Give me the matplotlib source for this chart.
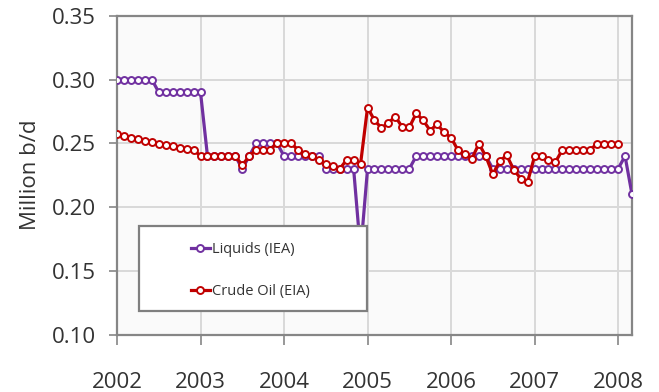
import matplotlib
matplotlib.use("Agg")
import matplotlib.pyplot as plt
from matplotlib.patches import Rectangle
import numpy as np

plt.rcParams['font.family'] = ['Open Sans', 'DejaVu Sans']

# Monthly series, Jan 2002 onward
liquids_iea = [
    0.30, 0.30, 0.30, 0.30, 0.30, 0.30, 0.29, 0.29, 0.29, 0.29, 0.29, 0.29,   # 2002
    0.29, 0.24, 0.24, 0.24, 0.24, 0.24, 0.23, 0.24, 0.25, 0.25, 0.25, 0.25,   # 2003
    0.24, 0.24, 0.24, 0.24, 0.24, 0.24, 0.23, 0.23, 0.23, 0.23, 0.23, 0.165,  # 2004
    0.23, 0.23, 0.23, 0.23, 0.23, 0.23, 0.23, 0.24, 0.24, 0.24, 0.24, 0.24,   # 2005
    0.24, 0.24, 0.24, 0.24, 0.24, 0.24, 0.23, 0.23, 0.23, 0.23, 0.23, 0.23,   # 2006
    0.23, 0.23, 0.23, 0.23, 0.23, 0.23, 0.23, 0.23, 0.23, 0.23, 0.23, 0.23,   # 2007
    0.23, 0.24, 0.21,                                                       # 2008
]
crude_oil_eia = [
    0.257, 0.2555, 0.2545, 0.253, 0.252, 0.251, 0.2498, 0.2484, 0.2476, 0.2466, 0.2458, 0.245,   # 2002
    0.24, 0.24, 0.24, 0.24, 0.24, 0.24, 0.2328, 0.24, 0.245, 0.245, 0.245, 0.25,               # 2003
    0.25, 0.25, 0.245, 0.242, 0.24, 0.237, 0.234, 0.232, 0.230, 0.237, 0.237, 0.234,           # 2004
    0.278, 0.268, 0.262, 0.266, 0.271, 0.2625, 0.2625, 0.2735, 0.268, 0.260, 0.265, 0.2585,    # 2005
    0.2545, 0.2445, 0.242, 0.238, 0.2497, 0.2398, 0.2257, 0.2361, 0.2406, 0.2294, 0.2224, 0.2197,  # 2006
    0.2398, 0.2398, 0.2372, 0.2353, 0.245, 0.245, 0.245, 0.245, 0.245, 0.2497, 0.2497, 0.2497,  # 2007
    0.2497,                                                                                   # 2008
]
year_ticks = [2002, 2003, 2004, 2005, 2006, 2007, 2008]
value_ticks = [0.10, 0.15, 0.20, 0.25, 0.30, 0.35]

start_year = 2002
x_liq = start_year + np.arange(len(liquids_iea)) / 12.0
x_crude = start_year + np.arange(len(crude_oil_eia)) / 12.0

purple = "#7030A0"
red = "#C00000"
axis_gray = "#868686"
grid_gray = "#d9d9d9"
text_col = "#333333"

fig = plt.figure(figsize=(6.59, 3.92), dpi=100)
ax = fig.add_axes([117 / 659, 57.3 / 392, 515 / 659, 319 / 392])
ax.set_facecolor("#fafafa")

line_kw = dict(lw=2.3, marker="o", markersize=5.0, markerfacecolor="white",
               markeredgewidth=1.4, solid_joinstyle="round")
l1, = ax.plot(x_liq, liquids_iea, color=purple, label="Liquids (IEA)", zorder=3, **line_kw)
l2, = ax.plot(x_crude, crude_oil_eia, color=red, label="Crude Oil (EIA)", zorder=4, **line_kw)

ax.set_xlim(2002, 2008 + 2 / 12)
ax.set_ylim(0.10, 0.35)
ax.set_xticks(year_ticks)
ax.set_xticklabels([str(y) for y in year_ticks])
ax.set_yticks(value_ticks)
ax.set_yticklabels([f"{v:.2f}" for v in value_ticks])

ax.grid(True, color=grid_gray, lw=1.4, zorder=0)
ax.set_axisbelow(True)
for s in ax.spines.values():
    s.set_color(axis_gray)
    s.set_linewidth(1.6)

ax.tick_params(axis="x", direction="out", length=7, width=1.2, color=axis_gray,
               labelsize=16, labelcolor=text_col, pad=20)
ax.tick_params(axis="y", direction="out", length=6, width=1.2, color=axis_gray,
               labelsize=16, labelcolor=text_col, pad=9)
ax.set_ylabel("Million b/d", fontsize=16, color=text_col, labelpad=8)

# Legend box
box = Rectangle((22 / 515, 23.7 / 319), 228 / 515, 85 / 319, transform=ax.transAxes,
                facecolor="white", edgecolor="#7f7f7f", lw=1.6, zorder=6)
ax.add_patch(box)
leg = ax.legend(handles=[l1, l2], loc="upper left",
                bbox_to_anchor=(74 / 515, 93 / 319), frameon=False,
                fontsize=10.5, handlelength=1.3, handletextpad=0.15,
                labelspacing=1.9, borderpad=0, borderaxespad=0)
leg.set_zorder(7)
for t in leg.get_texts():
    t.set_color(text_col)

fig.savefig("out.png", dpi=100)
